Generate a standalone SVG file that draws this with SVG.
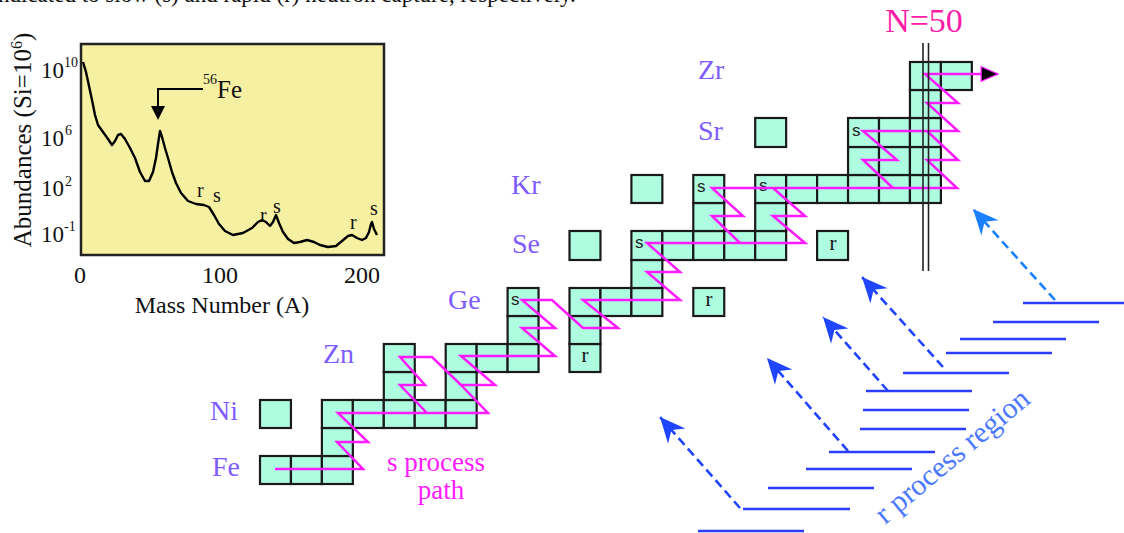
<svg xmlns="http://www.w3.org/2000/svg" width="1124" height="533" viewBox="0 0 1124 533">
<style>
.cell{fill:#aefde0;stroke:#1a1a1a;stroke-width:2.2}
.el{font-family:"Liberation Serif",serif;font-size:28px;fill:#7e5cff}
.sl{font-family:"Liberation Sans",sans-serif;font-size:17px;fill:#222}
.rl{font-family:"Liberation Serif",serif;font-size:21px;fill:#111;text-anchor:middle}
.ax{font-family:"Liberation Serif",serif;fill:#111}
.sp{fill:none;stroke:#ff1aff;stroke-width:2.5;stroke-linejoin:miter}
.rline{stroke:#2b3dff;stroke-width:2.6}
.rarr{fill:none;stroke:#1f45ff;stroke-width:2.6;stroke-dasharray:9 5}
</style>
<defs>
<marker id="bh" markerUnits="userSpaceOnUse" markerWidth="30" markerHeight="30" viewBox="-24 -12 26 24" refX="0" refY="0" orient="auto">
<path d="M0,0 L-22,-10 L-15,0 L-22,10 Z" fill="#1f45ff"/>
</marker>
<marker id="bh2" markerUnits="userSpaceOnUse" markerWidth="30" markerHeight="30" viewBox="-24 -12 26 24" refX="0" refY="0" orient="auto">
<path d="M0,0 L-22,-10 L-15,0 L-22,10 Z" fill="#1a80ff"/>
</marker>
<marker id="kh" markerUnits="userSpaceOnUse" markerWidth="20" markerHeight="20" viewBox="-17 -9 19 18" refX="0" refY="0" orient="auto">
<path d="M0,0 L-16,-7 L-16,7 Z" fill="#000" stroke="#ff1aff" stroke-width="1.2"/>
</marker>
</defs>
<rect width="1124" height="533" fill="#fff"/>

<text x="-2" y="2" font-family="Liberation Serif,serif" font-size="23" fill="#111">ndicated to slow (s) and rapid (r) neutron capture, respectively.</text>

<g id="abundance-plot">
<rect x="81" y="44" width="303" height="211" fill="#f6f0a3" stroke="#222" stroke-width="2.5"/>
<path d="M83,62 L86,72 L89,86 L92,100 L95,115 L98,125 L103,132 L108,139 L112,145 L115,141 L118,135 L121,134 L125,139 L130,148 L135,158 L140,172 L145,181 L149,181 L153,172 L156,158 L158,144 L160,131 L162,137 L165,148 L168,158 L172,172 L176,183 L181,193 L188,201 L196,204 L204,205 L209,207 L214,215 L219,224 L225,231 L233,235 L243,233 L252,228 L258,222 L262,220 L266,222 L270,226 L273,222 L276,215 L279,223 L283,232 L288,239 L294,243 L300,242 L307,240 L314,242 L320,245 L328,247 L336,246 L342,241 L348,236 L352,235 L357,238 L362,240 L366,238 L369,232 L371,224 L372,222 L374,229 L377,235" fill="none" stroke="#000" stroke-width="2.4" stroke-linejoin="round"/>
<path d="M203,89 H158 V108" fill="none" stroke="#000" stroke-width="2"/>
<path d="M151,106 L165,106 L158,120 Z" fill="#000"/>
<text class="ax" x="203" y="84" font-size="14">56</text>
<text class="ax" x="217" y="98" font-size="25">Fe</text>
<text class="ax" x="197" y="197" font-size="20">r</text>
<text class="ax" x="213" y="202" font-size="20">s</text>
<text class="ax" x="260" y="222" font-size="20">r</text>
<text class="ax" x="273" y="213" font-size="20">s</text>
<text class="ax" x="350" y="229" font-size="20">r</text>
<text class="ax" x="370" y="215" font-size="20">s</text>
<text class="ax" x="64" y="78" font-size="23" text-anchor="end">10</text>
<text class="ax" x="64" y="67" font-size="14">10</text>
<text class="ax" x="64" y="146" font-size="23" text-anchor="end">10</text>
<text class="ax" x="65" y="135" font-size="14">6</text>
<text class="ax" x="64" y="196" font-size="23" text-anchor="end">10</text>
<text class="ax" x="65" y="186" font-size="14">2</text>
<text class="ax" x="64" y="242" font-size="23" text-anchor="end">10</text>
<text class="ax" x="64" y="231" font-size="14">-1</text>
<text class="ax" x="80" y="283" font-size="24" text-anchor="middle">0</text>
<text class="ax" x="220" y="283" font-size="24" text-anchor="middle">100</text>
<text class="ax" x="362" y="283" font-size="24" text-anchor="middle">200</text>
<text class="ax" x="222" y="313" font-size="24" text-anchor="middle">Mass Number (A)</text>
<text class="ax" transform="translate(31,140) rotate(-90)" font-size="25" text-anchor="middle">Abundances (Si=10<tspan font-size="16" dy="-9">6</tspan><tspan dy="9">)</tspan></text>
</g>

<g id="row-Fe"><rect class="cell" x="260" y="456" width="30.95" height="28"/><rect class="cell" x="290.95" y="456" width="30.95" height="28"/><rect class="cell" x="321.9" y="456" width="30.95" height="28"/></g>
<g id="row-Co"><rect class="cell" x="321.9" y="428" width="30.95" height="28"/></g>
<g id="row-Ni"><rect class="cell" x="260" y="400" width="30.95" height="28"/><rect class="cell" x="321.9" y="400" width="30.95" height="28"/><rect class="cell" x="352.85" y="400" width="30.95" height="28"/><rect class="cell" x="383.8" y="400" width="30.95" height="28"/><rect class="cell" x="414.75" y="400" width="30.95" height="28"/><rect class="cell" x="445.7" y="400" width="30.95" height="28"/></g>
<g id="row-Cu"><rect class="cell" x="383.8" y="372" width="30.95" height="28"/><rect class="cell" x="445.7" y="372" width="30.95" height="28"/></g>
<g id="row-Zn"><rect class="cell" x="383.8" y="344" width="30.95" height="28"/><rect class="cell" x="445.7" y="344" width="30.95" height="28"/><rect class="cell" x="476.65" y="344" width="30.95" height="28"/><rect class="cell" x="507.6" y="344" width="30.95" height="28"/><rect class="cell" x="569.5" y="344" width="30.95" height="28"/><text class="rl" x="585" y="362">r</text></g>
<g id="row-Ga"><rect class="cell" x="507.6" y="316" width="30.95" height="28"/><rect class="cell" x="569.5" y="316" width="30.95" height="28"/></g>
<g id="row-Ge"><rect class="cell" x="507.6" y="288" width="30.95" height="28"/><text class="sl" x="511" y="305">s</text><rect class="cell" x="569.5" y="288" width="30.95" height="28"/><rect class="cell" x="600.45" y="288" width="30.95" height="28"/><rect class="cell" x="631.4" y="288" width="30.95" height="28"/><rect class="cell" x="693.3" y="288" width="30.95" height="28"/><text class="rl" x="709" y="306">r</text></g>
<g id="row-As"><rect class="cell" x="631.4" y="260" width="30.95" height="28"/></g>
<g id="row-Se"><rect class="cell" x="569.5" y="231" width="30.95" height="29"/><rect class="cell" x="631.4" y="231" width="30.95" height="29"/><text class="sl" x="635" y="248">s</text><rect class="cell" x="662.35" y="231" width="30.95" height="29"/><rect class="cell" x="693.3" y="231" width="30.95" height="29"/><rect class="cell" x="724.25" y="231" width="30.95" height="29"/><rect class="cell" x="755.2" y="231" width="30.95" height="29"/><rect class="cell" x="817.1" y="231" width="30.95" height="29"/><text class="rl" x="833" y="250">r</text></g>
<g id="row-Br"><rect class="cell" x="693.3" y="203" width="30.95" height="28"/><rect class="cell" x="755.2" y="203" width="30.95" height="28"/></g>
<g id="row-Kr"><rect class="cell" x="631.4" y="175" width="30.95" height="28"/><rect class="cell" x="693.3" y="175" width="30.95" height="28"/><text class="sl" x="697" y="192">s</text><rect class="cell" x="755.2" y="175" width="30.95" height="28"/><text class="sl" x="759" y="191">s</text><rect class="cell" x="786.15" y="175" width="30.95" height="28"/><rect class="cell" x="817.1" y="175" width="30.95" height="28"/><rect class="cell" x="848.05" y="175" width="30.95" height="28"/><rect class="cell" x="879" y="175" width="30.95" height="28"/><rect class="cell" x="909.95" y="175" width="30.95" height="28"/></g>
<g id="row-Rb"><rect class="cell" x="848.05" y="147" width="30.95" height="28"/><rect class="cell" x="879" y="147" width="30.95" height="28"/><rect class="cell" x="909.95" y="147" width="30.95" height="28"/></g>
<g id="row-Sr"><rect class="cell" x="755.2" y="118" width="30.95" height="29"/><rect class="cell" x="848.05" y="118" width="30.95" height="29"/><text class="sl" x="852" y="136">s</text><rect class="cell" x="879" y="118" width="30.95" height="29"/><rect class="cell" x="909.95" y="118" width="30.95" height="29"/></g>
<g id="row-Y"><rect class="cell" x="909.95" y="90" width="30.95" height="28"/></g>
<g id="row-Zr"><rect class="cell" x="909.95" y="62" width="30.95" height="28"/><rect class="cell" x="940.9" y="62" width="30.95" height="28"/></g>

<g id="element-labels">
<text class="el" x="698" y="79">Zr</text>
<text class="el" x="698" y="140">Sr</text>
<text class="el" x="511" y="194">Kr</text>
<text class="el" x="512" y="253">Se</text>
<text class="el" x="448" y="309">Ge</text>
<text class="el" x="323" y="363">Zn</text>
<text class="el" x="210" y="420">Ni</text>
<text class="el" x="212" y="476">Fe</text>
</g>

<g id="connectors">
<path class="sp" d="M275,469 H363 L337,442 H368 L338,413 H488 L461,385 H495 L461,356 H555 L522,328 H555 L522,300 H552 L583,328 H618 L583,300 H680 L647,272 H680 L647,243 H805 L773,216 H805 L773,188"/>
<path class="sp" d="M427,413 L400,385 H425 L400,357 H432 L461,385"/>
<path class="sp" d="M740,243 L712,216 H743 L712,188 H957 L927,160 H958 L927,131"/>
<path class="sp" d="M893,188 L863,160 H897 L863,131 H958 L927,103 H958 L925,74 H998" marker-end="url(#kh)"/>
<g stroke="#222" stroke-width="1.6"><line x1="923" y1="43" x2="923" y2="271"/><line x1="928.5" y1="43" x2="928.5" y2="271"/></g>
<path class="rarr" d="M1055,300 L973,209" style="stroke:#1a80ff" marker-end="url(#bh2)"/>
<path class="rarr" d="M943,367 L862,277" marker-end="url(#bh)"/>
<path class="rarr" d="M888,391 L823,317" marker-end="url(#bh)"/>
<path class="rarr" d="M848,451 L767,358" marker-end="url(#bh)"/>
<path class="rarr" d="M740,508 L660,417" marker-end="url(#bh)"/>
</g>

<g id="r-process-levels" class="rline">
<line x1="1023" y1="303" x2="1124" y2="303"/>
<line x1="993" y1="322" x2="1099" y2="322"/>
<line x1="960" y1="339" x2="1066" y2="339"/>
<line x1="946" y1="353" x2="1052" y2="353"/>
<line x1="903" y1="373" x2="1009" y2="373"/>
<line x1="866" y1="391" x2="972" y2="391"/>
<line x1="863" y1="410" x2="969" y2="410"/>
<line x1="860" y1="429" x2="966" y2="429"/>
<line x1="829" y1="452" x2="935" y2="452"/>
<line x1="806" y1="469" x2="912" y2="469"/>
<line x1="768" y1="488" x2="874" y2="488"/>
<line x1="743" y1="509" x2="850" y2="509"/>
<line x1="698" y1="531" x2="804" y2="531"/>
</g>

<g id="labels">
<text x="924" y="32" font-family="Liberation Serif,serif" font-size="34" fill="#ff1aa8" text-anchor="middle">N=50</text>
<text x="436" y="471" font-family="Liberation Serif,serif" font-size="27" fill="#ff1aff" text-anchor="middle">s process</text>
<text x="441" y="499" font-family="Liberation Serif,serif" font-size="27" fill="#ff1aff" text-anchor="middle">path</text>
<text transform="translate(885,525) rotate(-40)" font-family="Liberation Serif,serif" font-size="30" fill="#4a78ff">r process region</text>
</g>
</svg>
